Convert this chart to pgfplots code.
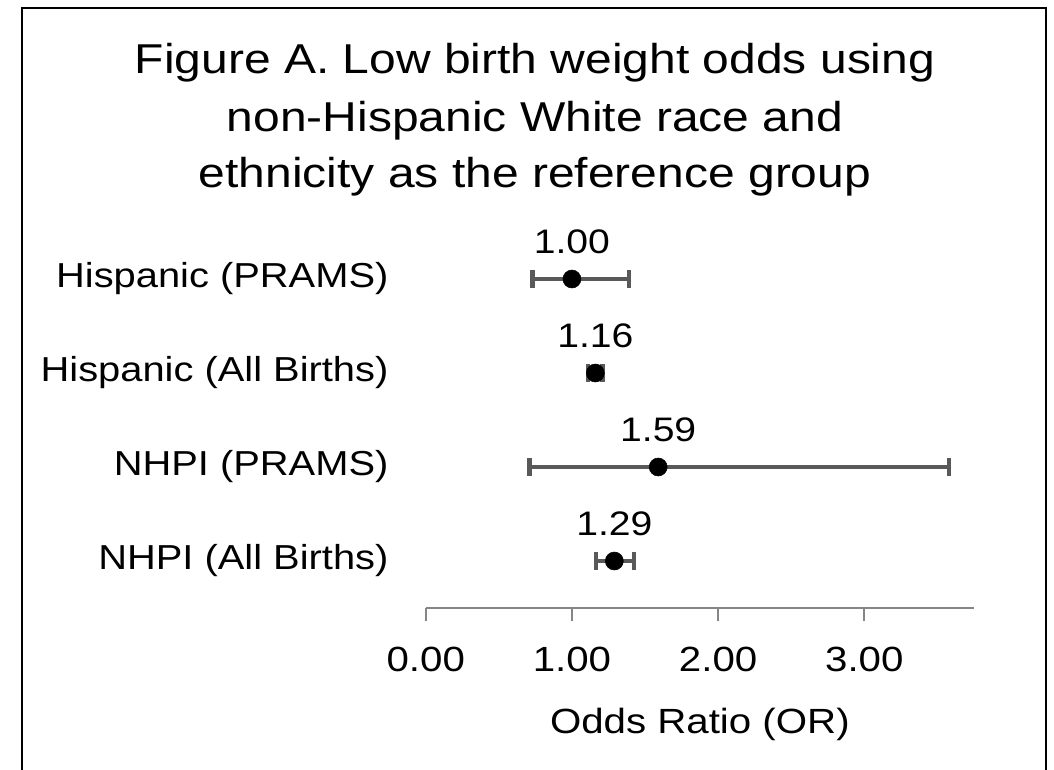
\documentclass[border=0pt]{standalone}
\usepackage{fontspec}
\setmainfont{Liberation Sans}[FakeStretch=1.15]
\usepackage{pgfplots}
\usepackage{pgfplotstable}
\pgfplotsset{compat=1.18}
\definecolor{errgray}{HTML}{595959}
\definecolor{axgray}{HTML}{868686}
\pgfplotstableread{
x    y   ep    em
1.00 3.5 0.39  0.27
1.16 2.5 0.05  0.05
1.59 1.5 1.99  0.88
1.29 0.5 0.135 0.125
}\ordata
\begin{document}
\begin{tikzpicture}
\path[use as bounding box] (0,0) rectangle (790.5pt,576.75pt);
\draw[line width=1pt] (16.5pt,-5pt) -- (16.5pt,570.75pt) -- (784.5pt,570.75pt) -- (784.5pt,-5pt);
\node[anchor=base, inner sep=0pt, font=\fontsize{31.3}{37}\selectfont] at (401.25pt,521.25pt) {Figure A. Low birth weight odds using};
\node[anchor=base, inner sep=0pt, font=\fontsize{31.3}{37}\selectfont] at (401.25pt,477.75pt) {non-Hispanic White race and};
\node[anchor=base, inner sep=0pt, font=\fontsize{31.3}{37}\selectfont] at (401.25pt,435.75pt) {ethnicity as the reference group};
\begin{axis}[
  at={(319.3pt,120.75pt)}, anchor=south west,
  scale only axis, width=411.2pt, height=282pt,
  xmin=0, xmax=3.75, ymin=0, ymax=4,
  axis x line*=bottom, axis y line*=left,
  y axis line style={draw=none},
  x axis line style={draw=axgray, line width=1.5pt, -},
  xtick={0,1,2,3},
  ytick={0.5,1.5,2.5,3.5},
  yticklabels={NHPI (All Births), NHPI (PRAMS), Hispanic (All Births), Hispanic (PRAMS)},
  ytick style={draw=none},
  xtick style={draw=axgray, line width=1.5pt},
  tick align=outside, major tick length=9.75pt,
  xticklabel style={font=\fontsize{26.25}{30}\selectfont, anchor=base, yshift=-38pt},
  yticklabel style={font=\fontsize{26}{30}\selectfont, anchor=east, inner sep=0pt, xshift=-18pt},
  xlabel={Odds Ratio (OR)},
  xlabel style={font=\fontsize{26.25}{30}\selectfont, at={(axis description cs:0.5,0)}, anchor=base, yshift=-93.75pt},
  /pgf/number format/fixed, /pgf/number format/fixed zerofill,
  /pgf/number format/precision=2, /pgf/number format/assume math mode=true,
  clip=false,
]
\addplot[only marks, mark=none, draw=none,
  error bars/.cd, x dir=both, x explicit,
  error bar style={errgray, line width=3.2pt},
  error mark options={rotate=90, errgray, line width=3.4pt, mark size=6.4pt}]
  table[x=x, y=y, x error plus=ep, x error minus=em] {\ordata};
\addplot[only marks, mark=*, mark size=6.75pt, black,
  point meta=x,
  nodes near coords,
  every node near coord/.append style={font=\fontsize{25.5}{30}\selectfont, anchor=base, yshift=19.5pt, black}]
  table[x=x, y=y] {\ordata};
\end{axis}
\end{tikzpicture}
\end{document}
